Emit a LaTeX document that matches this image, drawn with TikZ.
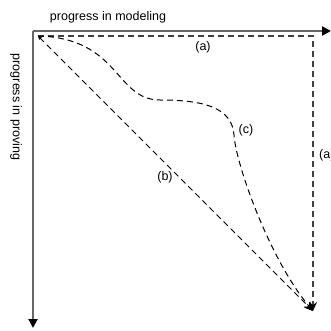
\documentclass[tikz,border=0pt]{standalone}
\usepackage{fontspec}
\setmainfont{Liberation Sans}
\usetikzlibrary{arrows.meta}
\tikzset{
	axis/.style={draw=black!60,line width=2pt,-{Triangle[length=9pt,width=9pt,color=black]}},
	route/.style={draw=black,line width=1pt,dash pattern=on 6pt off 4pt,-{Stealth[length=9pt,width=8pt,color=black]}},
	lab/.style={inner sep=0pt,font=\fontsize{12.5}{15}\selectfont}
}
\begin{document}
\begin{tikzpicture}[x=1pt,y=-1pt]
\useasboundingbox (0,0) rectangle (331,331);
\coordinate (O) at (33,31);
\coordinate (xend) at (331,31);
\coordinate (yend) at (33,328);
\coordinate (start) at (38,36);
\coordinate (corner) at (313,36);
\coordinate (goal) at (313,311);
\coordinate (bend) at (160,100);
\coordinate (knee) at (234,135);
\draw[axis] (O)--(xend);
\draw[axis] (O)--(yend);
\node[lab] (mlab) at (108,17) {progress in modeling};
\node[lab,rotate=-90] (plab) at (16,107) {progress in proving};
% (a)
\draw[route,draw=black!75,line width=1.3pt] (start)--(corner)--(goal);
% (b)
\draw[route,{Stealth[length=4pt,width=4pt]}-{Stealth[length=9pt,width=8pt,color=black]}] (start)--(goal);
% (c)
\draw[route] (start) .. controls (120,38) and (115,100) .. (bend)
	.. controls (205,100) and (232,108) .. (knee)
	.. controls (236,165) and (270,260) .. (goal);
\node[lab] (la) at (203,47) {(a)};
\node[lab,anchor=west] (la2) at (319,155) {(a)};
\node[lab] (lb) at (165,177) {(b)};
\node[lab] (lc) at (246,130) {(c)};
\end{tikzpicture}
\end{document}
